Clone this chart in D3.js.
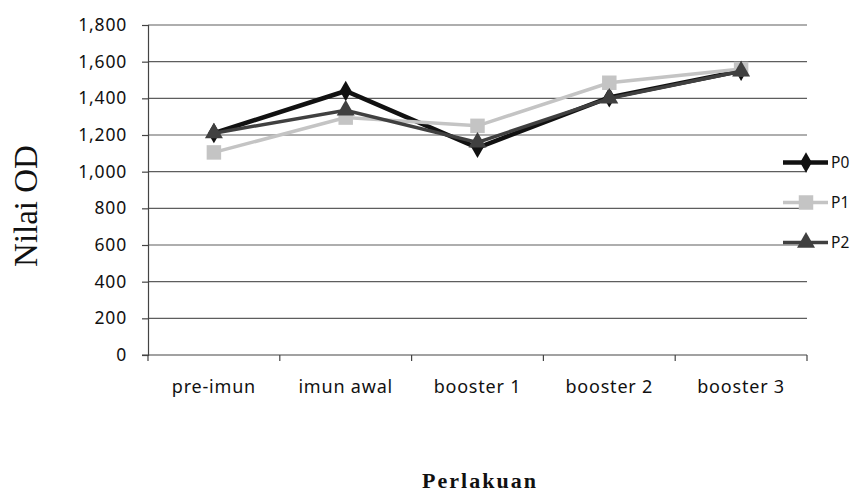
<!DOCTYPE html>
<html>
<head>
<meta charset="utf-8">
<script src="https://cdn.jsdelivr.net/npm/d3@7"></script>
<style>
  body { margin: 0; background: #fff; }
  .tick text { font-family: "Noto Sans", sans-serif; font-size: 17.5px; letter-spacing: 0.8px; fill: #111; }
</style>
</head>
<body>
<div id="chart"></div>
<script>
const categories = ["pre-imun", "imun awal", "booster 1", "booster 2", "booster 3"]
const seriesNames = ["P0", "P1", "P2"]
const p0 = [1210, 1440, 1130, 1405, 1550]
const p1 = [1105, 1295, 1250, 1485, 1560]
const p2 = [1210, 1335, 1160, 1400, 1548]
const yTicks = [0, 200, 400, 600, 800, 1000, 1200, 1400, 1600, 1800]

const w = 856
const h = 494
const plotLeft = 148
const plotRight = 807
const plotTop = 25
const plotBottom = 355

const svg = d3.select('#chart')
    .append('svg')
    .attr('width', w)
    .attr('height', h)

const xScale = d3.scaleBand()
    .domain(categories)
    .range([plotLeft, plotRight])

const yScale = d3.scaleLinear()
    .domain([0, 1800])
    .range([plotBottom, plotTop])

// gridlines
svg.append('g')
    .selectAll('line')
    .data(yTicks.slice(1))
    .enter()
    .append('line')
    .attr('x1', plotLeft)
    .attr('x2', plotRight)
    .attr('y1', d => yScale(d))
    .attr('y2', d => yScale(d))
    .attr('stroke', '#5e5e5e')
    .attr('stroke-width', 1.2)

// y axis
const yAxis = d3.axisLeft(yScale)
    .tickValues(yTicks)
    .tickFormat(d3.format(","))
    .tickSize(6)
    .tickPadding(15)
svg.append('g')
    .attr('transform', 'translate(' + plotLeft + ',0)')
    .call(yAxis)
    .call(g => g.selectAll('line, path').attr('stroke', '#444').attr('stroke-width', 1.2))

// x axis, ticks between categories
const xAxisG = svg.append('g')
    .attr('transform', 'translate(0,' + plotBottom + ')')
xAxisG.append('line')
    .attr('x1', plotLeft - 6)
    .attr('x2', plotRight)
    .attr('stroke', '#444')
    .attr('stroke-width', 1.2)
const bounds = categories.map(c => xScale(c)).concat([plotRight])
xAxisG.selectAll('.xt')
    .data(bounds)
    .enter()
    .append('line')
    .attr('x1', d => d)
    .attr('x2', d => d)
    .attr('y1', 0)
    .attr('y2', 6)
    .attr('stroke', '#444')
    .attr('stroke-width', 1.2)
xAxisG.selectAll('text')
    .data(categories)
    .enter()
    .append('text')
    .attr('x', d => xScale(d) + xScale.bandwidth() / 2)
    .attr('y', 38)
    .attr('text-anchor', 'middle')
    .style('font-family', '"Noto Sans", sans-serif')
    .style('font-size', '18px')
    .style('letter-spacing', '0.8px')
    .attr('fill', '#111')
    .text(d => d)

// series
const series = [
    { name: seriesNames[0], values: p0, color: '#111111', width: 4.5, shape: d3.symbolDiamond, size: 120 },
    { name: seriesNames[1], values: p1, color: '#c4c4c4', width: 3.5, shape: d3.symbolSquare, size: 210 },
    { name: seriesNames[2], values: p2, color: '#404040', width: 3.5, shape: d3.symbolTriangle, size: 140 }
]

const line = d3.line()
    .x((d, i) => xScale(categories[i]) + xScale.bandwidth() / 2)
    .y(d => yScale(d))

series.forEach(s => {
    svg.append('path')
        .datum(s.values)
        .attr('d', line)
        .attr('fill', 'none')
        .attr('stroke', s.color)
        .attr('stroke-width', s.width)
        .attr('stroke-linejoin', 'miter')

    svg.append('g')
        .selectAll('path')
        .data(s.values)
        .enter()
        .append('path')
        .attr('d', d3.symbol().type(s.shape).size(s.size))
        .attr('transform', (d, i) => 'translate(' + (xScale(categories[i]) + xScale.bandwidth() / 2) + ',' + yScale(d) + ')')
        .attr('fill', s.color)
})

// legend
const legend = svg.append('g')
series.forEach((s, i) => {
    const ly = 162.5 + i * 40
    legend.append('line')
        .attr('x1', 783)
        .attr('x2', 828)
        .attr('y1', ly)
        .attr('y2', ly)
        .attr('stroke', s.color)
        .attr('stroke-width', s.width)
    legend.append('path')
        .attr('d', d3.symbol().type(s.shape).size(s.size))
        .attr('transform', 'translate(806,' + ly + ')')
        .attr('fill', s.color)
    legend.append('text')
        .attr('x', 831)
        .attr('y', ly + 5.5)
        .style('font-family', '"Noto Sans", sans-serif')
        .style('font-size', '15.5px')
        .attr('fill', '#111')
        .text(s.name)
})

// axis titles
svg.append('text')
    .attr('transform', 'translate(37,206) rotate(-90)')
    .attr('text-anchor', 'middle')
    .style('font-family', '"Liberation Serif", serif')
    .style('font-size', '33px')
    .attr('fill', '#111')
    .text('Nilai OD')

svg.append('text')
    .attr('x', 480)
    .attr('y', 488)
    .attr('text-anchor', 'middle')
    .style('font-family', '"Liberation Serif", serif')
    .style('font-size', '22px')
    .style('letter-spacing', '2px')
    .style('font-weight', 'bold')
    .attr('fill', '#111')
    .text('Perlakuan')
</script>
</body>
</html>
